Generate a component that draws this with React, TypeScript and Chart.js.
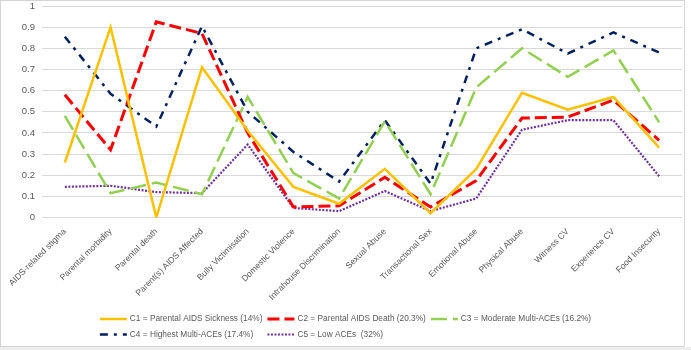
import { useEffect, useRef } from "react";
import { Chart, registerables } from "chart.js";

Chart.register(...registerables);

const categories = [
  "AIDS-related stigma",
  "Parental morbidity",
  "Parental death",
  "Parent(s) AIDS Affected",
  "Bully Victimisation",
  "Domestic Violence",
  "Intrahouse Discrimination",
  "Sexual Abuse",
  "Transactional Sex",
  "Emotional Abuse",
  "Physical Abuse",
  "Witness CV",
  "Experience CV",
  "Food Insecurity",
];

const seriesLabels = [
  "C1 = Parental AIDS Sickness (14%)",
  "C2 = Parental AIDS Death (20.3%)",
  "C3 = Moderate Multi-ACEs (16.2%)",
  "C4 = Highest Multi-ACEs (17.4%)",
  "C5 = Low ACEs  (32%)",
];

const c1Values = [0.26, 0.9, 0.0, 0.71, 0.41, 0.145, 0.065, 0.23, 0.02, 0.23, 0.59, 0.51, 0.57, 0.33];
const c2Values = [0.58, 0.32, 0.925, 0.87, 0.4, 0.05, 0.055, 0.19, 0.05, 0.175, 0.47, 0.475, 0.555, 0.365];
const c3Values = [0.48, 0.115, 0.165, 0.11, 0.57, 0.21, 0.09, 0.455, 0.11, 0.615, 0.8, 0.665, 0.79, 0.45];
const c4Values = [0.855, 0.585, 0.43, 0.905, 0.5, 0.31, 0.17, 0.46, 0.16, 0.8, 0.89, 0.775, 0.875, 0.78];
const c5Values = [0.145, 0.15, 0.12, 0.115, 0.345, 0.045, 0.03, 0.125, 0.03, 0.09, 0.415, 0.46, 0.46, 0.195];

const yTicks = [0, 0.1, 0.2, 0.3, 0.4, 0.5, 0.6, 0.7, 0.8, 0.9, 1];

const FONT = '"Liberation Sans", Arial, sans-serif';
const TEXT_COLOR = "#595959";
const GRID_COLOR = "#d9d9d9";

const WIDTH = 691;
const HEIGHT = 350;

// Chart frame: white panel with a thin grey border
const framePlugin = {
  id: "frame",
  beforeDraw(chart: any) {
    const ctx = chart.ctx;
    ctx.save();
    ctx.fillStyle = "#ffffff";
    ctx.fillRect(0, 0, chart.width, chart.height);
    ctx.fillStyle = "#eeeeee";
    ctx.fillRect(0, 347, chart.width, chart.height - 347);
    ctx.strokeStyle = "#d4d4d4";
    ctx.lineWidth = 1;
    ctx.strokeRect(0.5, 0.5, 684, 346);
    ctx.restore();
  },
};

// Legend laid out in aligned columns, two rows
const gridLegendPlugin = {
  id: "gridLegend",
  afterDraw(chart: any) {
    const ctx = chart.ctx;
    const ds = chart.data.datasets;
    const SAMPLE = 27;
    const TEXT_GAP = 3;
    const COL_GAP = 5;
    const ROW_TOP = 319;
    const ROW_H = 15.5;
    const rows = [
      [0, 1, 2],
      [3, 4],
    ];
    ctx.save();
    ctx.font = `8.3px ${FONT}`;
    const colW: number[] = [];
    for (let c = 0; c < 3; c++) {
      let m = 0;
      rows.forEach((r) => {
        if (r[c] !== undefined) m = Math.max(m, ctx.measureText(ds[r[c]].label).width);
      });
      colW.push(SAMPLE + TEXT_GAP + m + COL_GAP);
    }
    const total = colW.reduce((a, b) => a + b, 0) - COL_GAP;
    const x0 = (chart.width - total) / 2;
    rows.forEach((r, ri) => {
      const y = ROW_TOP + ri * ROW_H;
      let x = x0;
      r.forEach((di, c) => {
        const d = ds[di];
        ctx.strokeStyle = d.borderColor;
        ctx.lineWidth = d.borderWidth;
        ctx.lineCap = "butt";
        ctx.setLineDash(d.borderDash || []);
        ctx.beginPath();
        ctx.moveTo(x, y);
        ctx.lineTo(x + SAMPLE, y);
        ctx.stroke();
        ctx.setLineDash([]);
        ctx.fillStyle = TEXT_COLOR;
        ctx.textBaseline = "middle";
        ctx.textAlign = "left";
        ctx.fillText(d.label, x + SAMPLE + TEXT_GAP, y);
        x += colW[c];
      });
    });
    ctx.restore();
  },
};

export default function App() {
  const canvasRef = useRef<HTMLCanvasElement | null>(null);

  useEffect(() => {
    const canvas = canvasRef.current;
    if (!canvas) return;

    const line = (label: string, data: number[], color: string, width: number, dash: number[]) => ({
      label,
      data,
      borderColor: color,
      backgroundColor: color,
      borderWidth: width,
      borderDash: dash,
      borderCapStyle: "butt" as const,
      borderJoinStyle: "miter" as const,
      pointRadius: 0,
      pointHoverRadius: 0,
      tension: 0,
      fill: false,
    });

    const chart = new Chart(canvas, {
      type: "line",
      data: {
        labels: categories,
        datasets: [
          line(seriesLabels[0], c1Values, "#FFC000", 2.5, []),
          line(seriesLabels[1], c2Values, "#FF0000", 3, [12, 5]),
          line(seriesLabels[2], c3Values, "#92D050", 2.5, [16, 6]),
          line(seriesLabels[3], c4Values, "#002060", 2.5, [8, 6, 3, 6]),
          line(seriesLabels[4], c5Values, "#7030A0", 2.2, [2, 1.5]),
        ],
      },
      options: {
        responsive: false,
        animation: false,
        devicePixelRatio: 1,
        layout: { padding: { top: 6, right: 9, bottom: 0, left: 0 } },
        plugins: {
          legend: { display: false },
          tooltip: { enabled: false },
          title: { display: false },
        },
        scales: {
          x: {
            type: "category",
            offset: true,
            grid: { display: false, drawTicks: false },
            border: { display: false },
            ticks: {
              color: TEXT_COLOR,
              font: { family: FONT, size: 8.6 },
              maxRotation: 45,
              minRotation: 45,
              autoSkip: false,
              padding: 9,
            },
            afterFit(scale: any) {
              scale.height = 132.5;
              scale.paddingLeft = 0;
              scale.paddingRight = 0;
            },
          },
          y: {
            min: 0,
            max: 1,
            afterBuildTicks(scale: any) {
              scale.ticks = yTicks.map((v) => ({ value: v }));
            },
            grid: { color: GRID_COLOR, lineWidth: 1, drawTicks: false },
            border: { display: false },
            ticks: {
              color: TEXT_COLOR,
              font: { family: FONT, size: 9.5 },
              padding: 7,
              callback: (v: any) => String(Number(Number(v).toFixed(1))),
            },
            afterFit(scale: any) {
              scale.width = 42;
              scale.paddingTop = 0;
              scale.paddingBottom = 0;
            },
          },
        },
      },
      plugins: [framePlugin, gridLegendPlugin],
    });

    return () => chart.destroy();
  }, []);

  return (
    <div style={{ position: "fixed", left: 0, top: 0, width: WIDTH, height: HEIGHT }}>
      <canvas ref={canvasRef} width={WIDTH} height={HEIGHT} style={{ display: "block" }} />
    </div>
  );
}
